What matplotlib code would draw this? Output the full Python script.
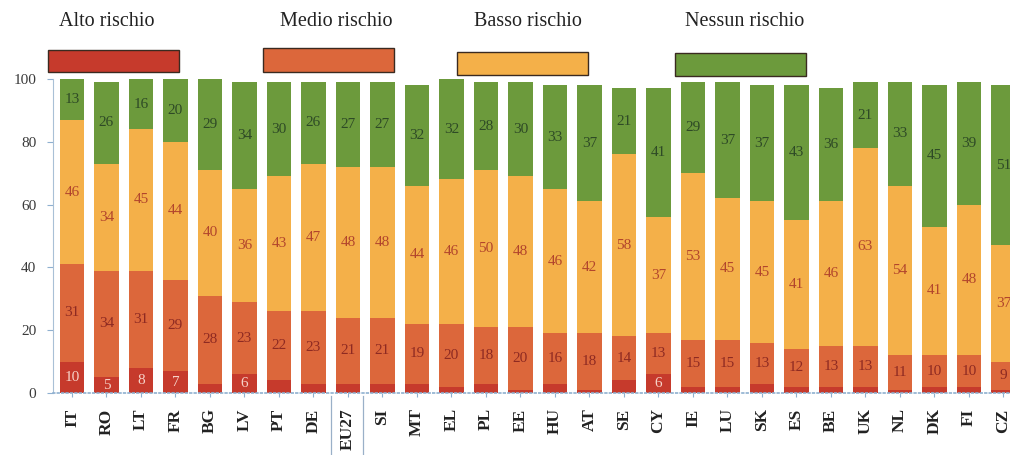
import matplotlib
matplotlib.use("Agg")
import matplotlib.pyplot as plt
import matplotlib.transforms as mtransforms
from matplotlib.patches import Rectangle
import numpy as np

countries = ["IT", "RO", "LT", "FR", "BG", "LV", "PT", "DE", "EU27", "SI", "MT", "EL", "PL", "EE",
             "HU", "AT", "SE", "CY", "IE", "LU", "SK", "ES", "BE", "UK", "NL", "DK", "FI", "CZ"]
alto    = [10, 5, 8, 7, 3, 6, 4, 3, 3, 3, 3, 2, 3, 1, 3, 1, 4, 6, 2, 2, 3, 2, 2, 2, 1, 2, 2, 1]
medio   = [31, 34, 31, 29, 28, 23, 22, 23, 21, 21, 19, 20, 18, 20, 16, 18, 14, 13, 15, 15, 13, 12, 13, 13, 11, 10, 10, 9]
basso   = [46, 34, 45, 44, 40, 36, 43, 47, 48, 48, 44, 46, 50, 48, 46, 42, 58, 37, 53, 45, 45, 41, 46, 63, 54, 41, 48, 37]
nessun  = [13, 26, 16, 20, 29, 34, 30, 26, 27, 27, 32, 32, 28, 30, 33, 37, 21, 41, 29, 37, 37, 43, 36, 21, 33, 45, 39, 51]
series_names = ["Alto rischio", "Medio rischio", "Basso rischio", "Nessun rischio"]
yticks = [0, 20, 40, 60, 80, 100]

colors = ["#c63a2c", "#dc673b", "#f4b049", "#6c9a3c"]
label_colors = ["#f6d2c8", "#8e2a22", "#b2452c", "#2e4a26"]
serif = ["Liberation Serif", "DejaVu Serif"]

fig = plt.figure(figsize=(10.1, 4.55), dpi=100)
W, H = 1010, 455
ax_left, ax_right = 53 / W, 1.0
ax_bottom, ax_top = 1 - 393 / H, 1 - 79 / H
ax = fig.add_axes([ax_left, ax_bottom, ax_right - ax_left, ax_top - ax_bottom])

x = np.arange(len(countries))
data = [alto, medio, basso, nessun]
bottom = np.zeros(len(countries))
for i, vals in enumerate(data):
    vals = np.array(vals, dtype=float)
    ax.bar(x, vals, bottom=bottom, width=0.71, color=colors[i], edgecolor="none", zorder=2)
    for xi, b, v in zip(x, bottom, vals):
        if i == 0 and v < 5:
            continue
        ax.text(xi, b + v / 2, f"{int(v)}", ha="center", va="center", fontsize=11,
                color=label_colors[i], family=serif, zorder=3)
    bottom += vals

ax.set_xlim(-0.55, 27.19)
ax.set_ylim(0, 100)
ax.set_yticks(yticks)
ax.set_yticklabels([str(t) for t in yticks], family=serif, fontsize=11, color="#3a3a3a")
ax.set_xticks(x)
ax.set_xticklabels(countries, rotation=90, family=serif, fontsize=12.5, color="#222222",
                   fontweight="bold", va="top")
ax.tick_params(axis="x", length=3, pad=8, color="#8fb0d0")
ax.tick_params(axis="y", length=4, pad=8, color="#8fb0d0")
for s in ["top", "right"]:
    ax.spines[s].set_visible(False)
ax.spines["left"].set_color("#a9c0d6")
ax.spines["left"].set_linewidth(0.8)
ax.spines["bottom"].set_color("#8fb0d0")
ax.spines["bottom"].set_linestyle(":")
ax.spines["bottom"].set_linewidth(1.2)

# separators around EU27 label
trans = mtransforms.blended_transform_factory(ax.transData, ax.transAxes)
eu = countries.index("EU27")
for dx in (-0.5, 0.45):
    ax.plot([eu + dx, eu + dx], [-0.01, -0.2], transform=trans, color="#9ab0c8",
            lw=0.9, clip_on=False)

# legend boxes
boxes = [(48, 50, 131, 22), (263, 48, 131, 24), (457, 52, 131, 23), (675, 53, 131, 23)]
text_centers = [107, 336, 528, 745]
for (bx, by, bw, bh), c, name, tc in zip(boxes, colors, series_names, text_centers):
    fig.patches.append(Rectangle((bx / W, 1 - (by + bh) / H), bw / W, bh / H,
                                 transform=fig.transFigure, facecolor=c,
                                 edgecolor="#3a2a20", linewidth=1.0))
    fig.text(tc / W, 1 - 22 / H, name, ha="center", va="center", fontsize=14.5,
             family=serif, color="#222222")

fig.savefig("out.png", dpi=100)
